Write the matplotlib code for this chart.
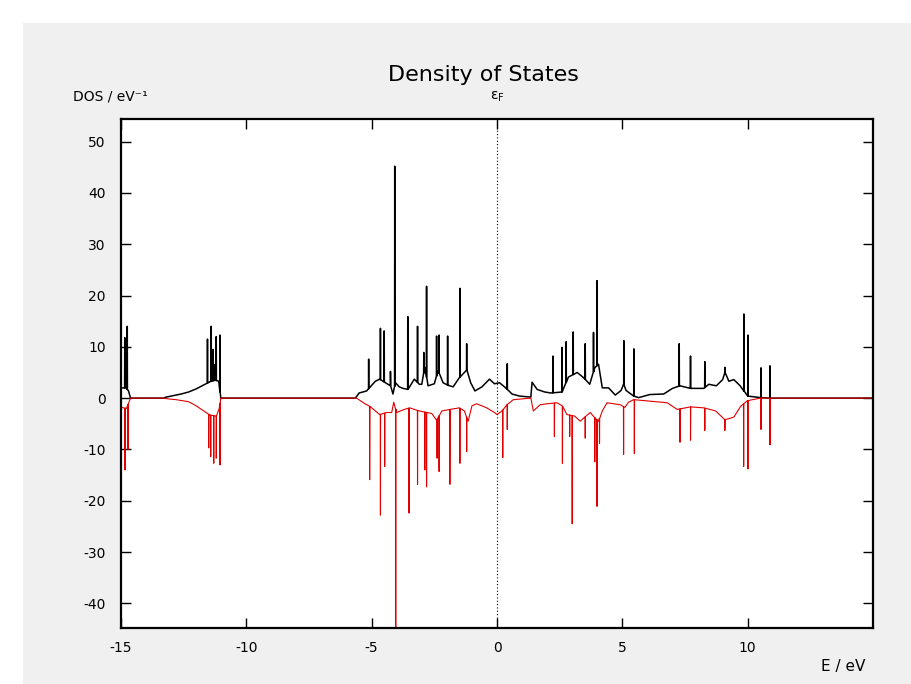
import numpy as np
import matplotlib
matplotlib.use("Agg")
import matplotlib.pyplot as plt
from matplotlib.patches import Rectangle

plt.rcParams['axes.unicode_minus'] = False

# spin-up (black) smooth part of the DOS
up_base_e = [-15.0, -14.8, -14.7, -14.62, -13.3, -13.2, -12.9, -12.6, -12.3, -12.0, -11.8, -11.6,
             -11.45, -11.25, -11.1, -11.02, -5.65, -5.5, -5.2, -5.0, -4.85, -4.68, -4.45, -4.25,
             -4.15, -4.05, -3.9, -3.75, -3.55, -3.3, -3.1, -3.0, -2.88, -2.75, -2.5, -2.35, -2.15,
             -1.95, -1.75, -1.5, -1.2, -1.05, -0.88, -0.6, -0.3, -0.1, 0.1, 0.3, 0.6, 0.9, 1.35,
             1.4, 1.6, 1.9, 2.15, 2.6, 2.85, 3.2, 3.45, 3.7, 3.9, 4.05, 4.2, 4.45, 4.72, 4.95,
             5.05, 5.15, 5.45, 5.65, 6.1, 6.65, 7.0, 7.3, 7.7, 8.25, 8.45, 8.75, 9.0, 9.1, 9.25,
             9.45, 9.7, 10.0, 10.5, 10.9, 15.0]
up_base_d = [2.0, 2.0, 1.4, 0.0, 0.0, 0.2, 0.5, 0.8, 1.2, 1.8, 2.3, 2.8,
             3.2, 3.5, 3.3, 0.0, 0.0, 1.0, 1.4, 2.5, 3.3, 3.7, 3.0, 2.4,
             0.8, 3.0, 2.2, 1.9, 1.7, 3.7, 2.7, 2.7, 6.0, 2.4, 2.8, 5.3, 3.0,
             2.5, 2.2, 4.0, 5.5, 3.0, 1.4, 2.2, 3.7, 2.8, 3.0, 2.2, 0.8, 0.4, 0.2,
             3.1, 1.7, 1.2, 1.0, 1.2, 4.1, 5.0, 4.0, 2.7, 5.9, 6.6, 2.0, 2.0, 0.6, 1.5,
             2.7, 1.5, 0.4, 0.1, 0.7, 0.8, 1.9, 2.4, 1.9, 1.9, 2.7, 2.4, 3.6, 5.0, 3.3,
             3.6, 2.4, 0.4, 0.1, 0.0, 0.0]

# spin-up sharp peaks
up_peak_e = [-14.85, -14.75, -11.55, -11.4, -11.33, -11.28, -11.2, -11.05,
             -5.12, -4.65, -4.5, -4.25, -4.08, -3.56, -3.17, -2.92, -2.81, -2.41, -2.31,
             -1.97, -1.48, -1.21, 0.41, 2.23, 2.59, 2.76, 3.04, 3.52, 3.85, 3.99,
             5.06, 5.46, 7.27, 7.72, 8.29, 9.09, 9.85, 10.01, 10.53, 10.89]
up_peak_d = [11.8, 14.0, 11.5, 14.0, 9.5, 6.5, 12.0, 12.3,
             7.6, 13.6, 13.1, 5.2, 45.2, 15.9, 14.0, 8.9, 21.8, 12.1, 12.3,
             12.1, 21.4, 10.6, 6.7, 8.2, 9.9, 11.0, 12.9, 10.6, 12.8, 22.9,
             11.2, 9.6, 10.6, 8.2, 7.1, 6.0, 16.4, 12.3, 5.9, 6.3]

# spin-down (red) smooth part
dn_base_e = [-15.0, -14.78, -14.7, -14.62, -13.3, -13.2, -12.8, -12.3, -12.0, -11.7, -11.45,
             -11.2, -11.08, -11.02, -5.6, -5.3, -5.08, -4.85, -4.68, -4.4, -4.2, -4.12, -4.0,
             -3.7, -3.48, -3.1, -2.6, -2.41, -2.2, -1.88, -1.5, -1.3, -1.15, -1.0, -0.81,
             -0.41, -0.1, 0.0, 0.2, 0.39, 0.65, 1.35, 1.45, 1.72, 2.0, 2.39, 2.6, 2.79, 3.1,
             3.32, 3.55, 3.72, 3.9, 4.05, 4.2, 4.39, 4.92, 5.1, 5.25, 5.45, 6.1, 6.79, 7.19,
             7.72, 8.25, 8.72, 9.09, 9.45, 9.72, 9.99, 10.5, 15.0]
dn_base_d = [-1.8, -2.0, -1.0, 0.0, 0.0, -0.1, -0.3, -0.7, -1.5, -2.5, -3.3,
             -3.5, -2.0, 0.0, 0.0, -1.0, -1.6, -2.5, -3.2, -2.8, -2.8, -0.8, -2.8,
             -2.2, -1.9, -2.5, -3.0, -4.3, -2.5, -2.2, -1.9, -2.5, -4.5, -1.5, -1.1,
             -1.9, -2.8, -3.2, -2.5, -1.3, -0.3, 0.0, -2.5, -1.3, -1.1, -0.9, -1.5, -3.2, -3.5,
             -4.5, -3.5, -2.8, -3.8, -4.5, -2.5, -0.9, -1.3, -1.8, -0.8, -0.3, -0.6, -0.9, -2.2,
             -1.7, -1.9, -2.5, -4.2, -3.7, -1.6, -0.5, 0.0, 0.0]

# spin-down sharp peaks
dn_peak_e = [-14.84, -14.72, -11.5, -11.42, -11.3, -11.2, -11.05,
             -5.08, -4.65, -4.48, -4.04, -3.51, -3.17, -2.88, -2.81, -2.39, -2.31,
             -1.88, -1.48, -1.21, 0.23, 0.41, 2.29, 2.61, 2.9, 3.0, 3.52, 3.9, 3.99, 4.09,
             5.05, 5.48, 7.3, 7.72, 8.29, 9.09, 9.84, 10.01, 10.53, 10.89]
dn_peak_d = [-14.0, -10.0, -9.7, -11.4, -12.7, -11.7, -13.0,
             -15.9, -22.8, -13.3, -46.0, -22.4, -16.8, -14.0, -17.3, -11.7, -14.3,
             -16.8, -12.7, -10.4, -11.6, -6.1, -7.5, -12.7, -7.5, -24.5, -7.8, -12.4, -21.1, -8.8,
             -11.0, -10.8, -8.6, -8.2, -6.3, -6.3, -13.3, -13.8, -6.1, -9.1]

x_ticks = [-15, -10, -5, 0, 5, 10]
y_ticks = [-40, -30, -20, -10, 0, 10, 20, 30, 40, 50]


def build_curve(base_e, base_d, peak_e, peak_d, w=0.006):
    """put the sharp peaks on top of the smooth curve"""
    e = list(base_e)
    d = list(base_d)
    for pe, pd in zip(peak_e, peak_d):
        b = np.interp(pe, base_e, base_d)
        e += [pe - w, pe, pe + w]
        d += [b, pd, b]
    order = np.argsort(e, kind="stable")
    return np.array(e)[order], np.array(d)[order]


W, H = 911, 684
fig = plt.figure(figsize=(W / 100, H / 100), dpi=100, facecolor="white")
fig.patches.append(Rectangle((23 / W, 0), 1, 1 - 23 / H, transform=fig.transFigure,
                             facecolor="#f0f0f0", edgecolor="none", zorder=-1))

ax = fig.add_axes([121 / W, 1 - 628 / H, (873 - 121) / W, (628 - 119) / H])
ax.set_facecolor("white")

ue, ud = build_curve(up_base_e, up_base_d, up_peak_e, up_peak_d)
de, dd = build_curve(dn_base_e, dn_base_d, dn_peak_e, dn_peak_d)
ax.plot(ue, ud, color="black", lw=1.1)
ax.plot(de, dd, color="#e00000", lw=0.8)
ax.axvline(0, color="black", lw=0.8, ls=(0, (1, 2)))

ax.set_xlim(-15, 15)
ax.set_ylim(-44.8, 54.4)
ax.set_xticks(x_ticks)
ax.set_yticks(y_ticks)
ax.tick_params(direction="in", length=7, width=1, top=True, right=True,
               labelsize=10, colors="black")
ax.tick_params(axis="x", pad=9)
ax.tick_params(axis="y", pad=11)
for s in ax.spines.values():
    s.set_linewidth(1.6)

fig.text(483 / W, 1 - 75 / H, "Density of States", ha="center", va="center", fontsize=16)
fig.text(73 / W, 1 - 97 / H, "DOS / eV⁻¹", ha="left", va="center", fontsize=10)
fig.text(497 / W, 1 - 97 / H, r"ε$_\mathrm{F}$", ha="center", va="center", fontsize=10)
fig.text(865 / W, 1 - 666 / H, "E / eV", ha="right", va="center", fontsize=11)

fig.savefig("out.png", dpi=100, facecolor=fig.get_facecolor())
